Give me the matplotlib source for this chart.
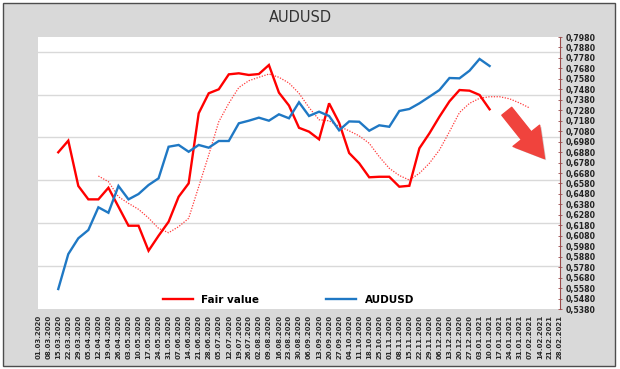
import matplotlib
matplotlib.use("Agg")
import matplotlib.pyplot as plt
from matplotlib.patches import Rectangle, FancyArrowPatch
import matplotlib.patheffects as pe
import numpy as np

# weekly categories on the x axis
week_labels = [
    "01.03.2020", "08.03.2020", "15.03.2020", "22.03.2020", "29.03.2020",
    "05.04.2020", "12.04.2020", "19.04.2020", "26.04.2020", "03.05.2020",
    "10.05.2020", "17.05.2020", "24.05.2020", "31.05.2020", "07.06.2020",
    "14.06.2020", "21.06.2020", "28.06.2020", "05.07.2020", "12.07.2020",
    "19.07.2020", "26.07.2020", "02.08.2020", "09.08.2020", "16.08.2020",
    "23.08.2020", "30.08.2020", "06.09.2020", "13.09.2020", "20.09.2020",
    "27.09.2020", "04.10.2020", "11.10.2020", "18.10.2020", "25.10.2020",
    "01.11.2020", "08.11.2020", "15.11.2020", "22.11.2020", "29.11.2020",
    "06.12.2020", "13.12.2020", "20.12.2020", "27.12.2020", "03.01.2021",
    "10.01.2021", "17.01.2021", "24.01.2021", "31.01.2021", "07.02.2021",
    "14.02.2021", "21.02.2021", "28.02.2021",
]

fair_start = "15.03.2020"
fair_value = [
    0.6878, 0.6989, 0.6556, 0.6428, 0.6428, 0.6539, 0.6358, 0.6176, 0.6176, 0.5937,
    0.6080, 0.6214, 0.6453, 0.6581, 0.7251, 0.7442, 0.7480, 0.7623, 0.7633, 0.7617,
    0.7626, 0.7712, 0.7448, 0.7325, 0.7112, 0.7075, 0.7002, 0.7346, 0.7161, 0.6871,
    0.6773, 0.6639, 0.6644, 0.6644, 0.6549, 0.6558, 0.6916, 0.7059, 0.7218, 0.7365,
    0.7473, 0.7467, 0.7426, 0.7289,
]

audusd_start = "15.03.2020"
audusd = [
    0.5571, 0.5905, 0.6056, 0.6135, 0.6352, 0.6300, 0.6556, 0.6428, 0.6479, 0.6565,
    0.6629, 0.6931, 0.6948, 0.6883, 0.6948, 0.6922, 0.6986, 0.6986, 0.7155, 0.7180,
    0.7209, 0.7180, 0.7241, 0.7203, 0.7356, 0.7225, 0.7266, 0.7225, 0.7088, 0.7173,
    0.7170, 0.7084, 0.7136, 0.7122, 0.7273, 0.7292, 0.7346, 0.7409, 0.7473, 0.7588,
    0.7585, 0.7658, 0.7770, 0.7703,
]

# shifted smoothed fair value (thin dotted)
fair_ma_start = "12.04.2020"
fair_ma = [
    0.6651, 0.6597, 0.6453, 0.6390, 0.6333, 0.6250, 0.6151, 0.6109, 0.6167, 0.6247,
    0.6549, 0.6852, 0.7170, 0.7346, 0.7497, 0.7562, 0.7595, 0.7626, 0.7595, 0.7540,
    0.7442, 0.7306, 0.7189, 0.7179, 0.7126, 0.7083, 0.7035, 0.6964, 0.6836, 0.6725,
    0.6656, 0.6613, 0.6677, 0.6773, 0.6900, 0.7075, 0.7258, 0.7346, 0.7394, 0.7409,
    0.7409, 0.7389, 0.7349, 0.7301,
]

price_ticks = [
    0.5380, 0.5480, 0.5580, 0.5680, 0.5780, 0.5880, 0.5980, 0.6080, 0.6180,
    0.6280, 0.6380, 0.6480, 0.6580, 0.6680, 0.6780, 0.6880, 0.6980, 0.7080,
    0.7180, 0.7280, 0.7380, 0.7480, 0.7580, 0.7680, 0.7780, 0.7880, 0.7980,
]
grid_levels = [0.579, 0.620, 0.661, 0.702, 0.743, 0.784]


def positions(start, values):
    i0 = week_labels.index(start)
    return np.arange(i0, i0 + len(values))


fig = plt.figure(figsize=(6.2, 3.69), dpi=100)
fig.patch.set_facecolor("white")

# grey chart frame
fig.patches.append(Rectangle((3 / 620, 3 / 369), 612 / 620, 363 / 369,
                             transform=fig.transFigure, facecolor="#d9d9d9",
                             edgecolor="#4d4d4d", linewidth=1.0, zorder=-10))

ax = fig.add_axes([38.2 / 620, 60 / 369, 521.6 / 620, 272 / 369])
ax.set_zorder(2)
ax.set_facecolor("white")

for g in grid_levels:
    ax.axhline(g, color="#d9d9d9", lw=1.0, zorder=1)

ax.plot(positions(fair_ma_start, fair_ma), fair_ma, color="#ff3b3b", lw=0.9,
        ls=(0, (1, 1.2)), zorder=2)
ax.plot(positions(fair_start, fair_value), fair_value, color="#ff0000", lw=1.7,
        solid_joinstyle="miter", zorder=3, label="Fair value")
ax.plot(positions(audusd_start, audusd), audusd, color="#1f78c4", lw=1.7,
        solid_joinstyle="miter", zorder=3, label="AUDUSD")

ax.set_xlim(0, len(week_labels) - 1)
ax.set_ylim(price_ticks[0], price_ticks[-1])

ax.set_xticks(np.arange(len(week_labels)))
ax.set_xticklabels(week_labels, rotation=90, fontsize=5, fontweight="bold",
                   color="#2a2a2a")
ax.tick_params(axis="x", length=0, pad=4)

ax.yaxis.tick_right()
ax.set_yticks(price_ticks)
ax.set_yticklabels([("%.4f" % t).replace(".", ",") for t in price_ticks],
                   fontsize=5.6, fontweight="bold", color="#222222")
ax.tick_params(axis="y", direction="inout", length=3, width=0.6,
               color="#9a4a4a", pad=3)

for side in ["top", "left", "bottom"]:
    ax.spines[side].set_visible(False)
ax.spines["right"].set_color("#9a4a4a")
ax.spines["right"].set_linewidth(0.8)

fig.text(300 / 620, 1 - 18 / 369, "AUDUSD", ha="center", va="center",
         fontsize=10.5, color="#333333")

# legend inside the plot, two entries spread apart
leg = ax.legend(loc="lower left", bbox_to_anchor=(0.221, -0.02), ncol=2,
                frameon=False, prop={"size": 7.5, "weight": "bold"},
                handlelength=2.9, columnspacing=6.4, handletextpad=0.8)

# big trend arrow
arrow = FancyArrowPatch((0.895, 0.735), (0.974, 0.545), transform=ax.transAxes,
                        arrowstyle="simple,head_width=3.5,head_length=3.0,tail_width=1.3",
                        mutation_scale=7, color="#f0433d", zorder=4,
                        path_effects=[pe.SimplePatchShadow(offset=(1.2, -1.2),
                                                           alpha=0.25),
                                      pe.Normal()])
ax.add_patch(arrow)

fig.savefig("out.png", dpi=100)
